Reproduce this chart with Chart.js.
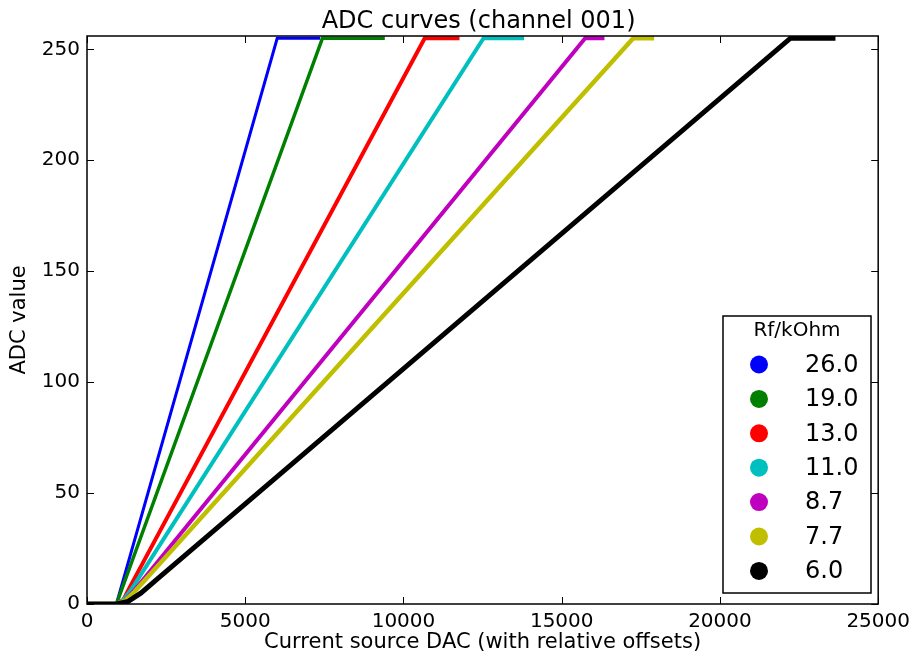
<!DOCTYPE html>
<html>
<head>
<meta charset="utf-8">
<title>ADC curves</title>
<script src="https://cdn.jsdelivr.net/npm/chart.js@4.4.0/dist/chart.umd.min.js"></script>
<style>
  html, body { margin: 0; padding: 0; background: #fff; }
</style>
</head>
<body>
<canvas id="adcChart" width="916" height="656"></canvas>
<script>
// feedback resistor for each curve, legend order
const rfLabels = ['26.0', '19.0', '13.0', '11.0', '8.7', '7.7', '6.0'];
const lineColors = ['#0000ff', '#008000', '#ff0000', '#00bfbf', '#bf00bf', '#bfbf00', '#000000'];
const lineWidths = [3, 3.5, 4, 4, 4, 4.5, 5];

// DAC setting vs ADC reading, one pair of arrays per Rf
const dac26 = [0, 930, 6010, 7370];
const adc26 = [0, 0, 255, 255];
const dac19 = [0, 930, 7440, 9410];
const adc19 = [0, 0, 255, 255];
const dac13 = [0, 930, 1150, 1350, 10670, 11770];
const adc13 = [0, 0, 2, 7.5, 255, 255];
const dac11 = [0, 930, 1150, 1400, 12530, 13810];
const adc11 = [0, 0, 1.8, 6.5, 255, 255];
const dac87 = [0, 930, 1200, 1500, 15740, 16350];
const adc87 = [0, 0, 1.7, 6.2, 255, 255];
const dac77 = [0, 930, 1200, 1500, 17260, 17920];
const adc77 = [0, 0, 1.5, 5.5, 255, 255];
const dac60 = [0, 930, 1300, 1700, 2300, 22230, 23650];
const adc60 = [0, 0, 1.2, 4.9, 12.2, 255, 255];

const dacSets = [dac26, dac19, dac13, dac11, dac87, dac77, dac60];
const adcSets = [adc26, adc19, adc13, adc11, adc87, adc77, adc60];

// axis ticks
const xTicks = [0, 5000, 10000, 15000, 20000, 25000];
const yTicks = [0, 50, 100, 150, 200, 250];

const FONT = '"DejaVu Sans", Verdana, sans-serif';

let datasets = dacSets.map((dac, i) => {
    return {
        label: rfLabels[i],
        data: dac.map((d, j) => ({ x: d, y: adcSets[i][j] })),
        showLine: true,
        borderColor: lineColors[i],
        backgroundColor: lineColors[i],
        borderWidth: lineWidths[i],
        pointRadius: 0,
        tension: 0,
        clip: 0,
        order: dacSets.length - 1 - i   // black ends up on top
    }
});

// frame, inward ticks on all four sides, titles and the Rf legend
const decorations = {
    id: 'decorations',
    afterDatasetsDraw(chart) {
        const ctx = chart.ctx;
        const a = chart.chartArea;
        const xs = chart.scales.x;
        const ys = chart.scales.y;
        ctx.save();
        ctx.strokeStyle = '#000';
        ctx.lineWidth = 1;
        ctx.beginPath();
        xTicks.forEach(v => {
            const px = Math.round(xs.getPixelForValue(v)) + 0.5;
            ctx.moveTo(px, a.bottom); ctx.lineTo(px, a.bottom - 7);
            ctx.moveTo(px, a.top); ctx.lineTo(px, a.top + 7);
        });
        yTicks.forEach(v => {
            const py = Math.round(ys.getPixelForValue(v)) + 0.5;
            ctx.moveTo(a.left, py); ctx.lineTo(a.left + 7, py);
            ctx.moveTo(a.right, py); ctx.lineTo(a.right - 7, py);
        });
        ctx.stroke();
        ctx.lineWidth = 1.5;
        ctx.strokeRect(a.left, a.top, a.right - a.left, a.bottom - a.top);
        ctx.restore();
    },
    afterDraw(chart) {
        const ctx = chart.ctx;
        const a = chart.chartArea;
        const cx = (a.left + a.right) / 2;
        ctx.save();
        ctx.fillStyle = '#000';
        ctx.textAlign = 'center';
        ctx.textBaseline = 'alphabetic';
        ctx.font = '24px ' + FONT;
        ctx.fillText('ADC curves (channel 001)', cx - 4, 28);
        ctx.font = '21px ' + FONT;
        ctx.fillText('Current source DAC (with relative offsets)', cx, 648);

        ctx.save();
        ctx.translate(20, (a.top + a.bottom) / 2);
        ctx.rotate(-Math.PI / 2);
        ctx.textBaseline = 'middle';
        ctx.fillText('ADC value', 0, 0);
        ctx.restore();

        // legend box
        const lx = 723, ly = 316, lw = 148, lh = 277;
        ctx.fillStyle = '#fff';
        ctx.fillRect(lx, ly, lw, lh);
        ctx.strokeStyle = '#000';
        ctx.lineWidth = 1.5;
        ctx.strokeRect(lx, ly, lw, lh);
        ctx.fillStyle = '#000';
        ctx.font = '20px ' + FONT;
        ctx.textBaseline = 'middle';
        ctx.fillText('Rf/kOhm', lx + lw / 2, 331);
        ctx.textAlign = 'left';
        ctx.font = '24px ' + FONT;
        rfLabels.forEach((lab, i) => {
            const yy = 364.5 + i * 34.4;
            ctx.fillStyle = lineColors[i];
            ctx.beginPath();
            ctx.arc(759, yy, 9, 0, Math.PI * 2);
            ctx.fill();
            ctx.fillStyle = '#000';
            ctx.fillText(lab, 805, yy + 1);
        });
        ctx.restore();
    }
};

const adcChart = document.getElementById('adcChart');

let lineChart = new Chart(adcChart, {
    type: 'scatter',
    data: { datasets: datasets },
    options: {
        responsive: false,
        animation: false,
        layout: { padding: { top: 36, right: 33, left: 0, bottom: 0 } },
        plugins: {
            legend: { display: false },
            tooltip: { enabled: false }
        },
        scales: {
            x: {
                type: 'linear',
                min: 0,
                max: 25000,
                afterFit: s => { s.height = 52; },
                afterBuildTicks: s => { s.ticks = xTicks.map(v => ({ value: v })); },
                grid: { display: false, drawTicks: false },
                border: { display: false },
                ticks: {
                    padding: 6,
                    maxRotation: 0,
                    color: '#000',
                    font: { family: FONT, size: 20 },
                    callback: v => String(v)
                }
            },
            y: {
                type: 'linear',
                min: 0,
                max: 256,
                afterFit: s => { s.width = 87; },
                afterBuildTicks: s => { s.ticks = yTicks.map(v => ({ value: v })); },
                grid: { display: false, drawTicks: false },
                border: { display: false },
                ticks: {
                    padding: 7,
                    color: '#000',
                    font: { family: FONT, size: 20 },
                    callback: v => String(v)
                }
            }
        }
    },
    plugins: [decorations]
});
</script>
</body>
</html>
